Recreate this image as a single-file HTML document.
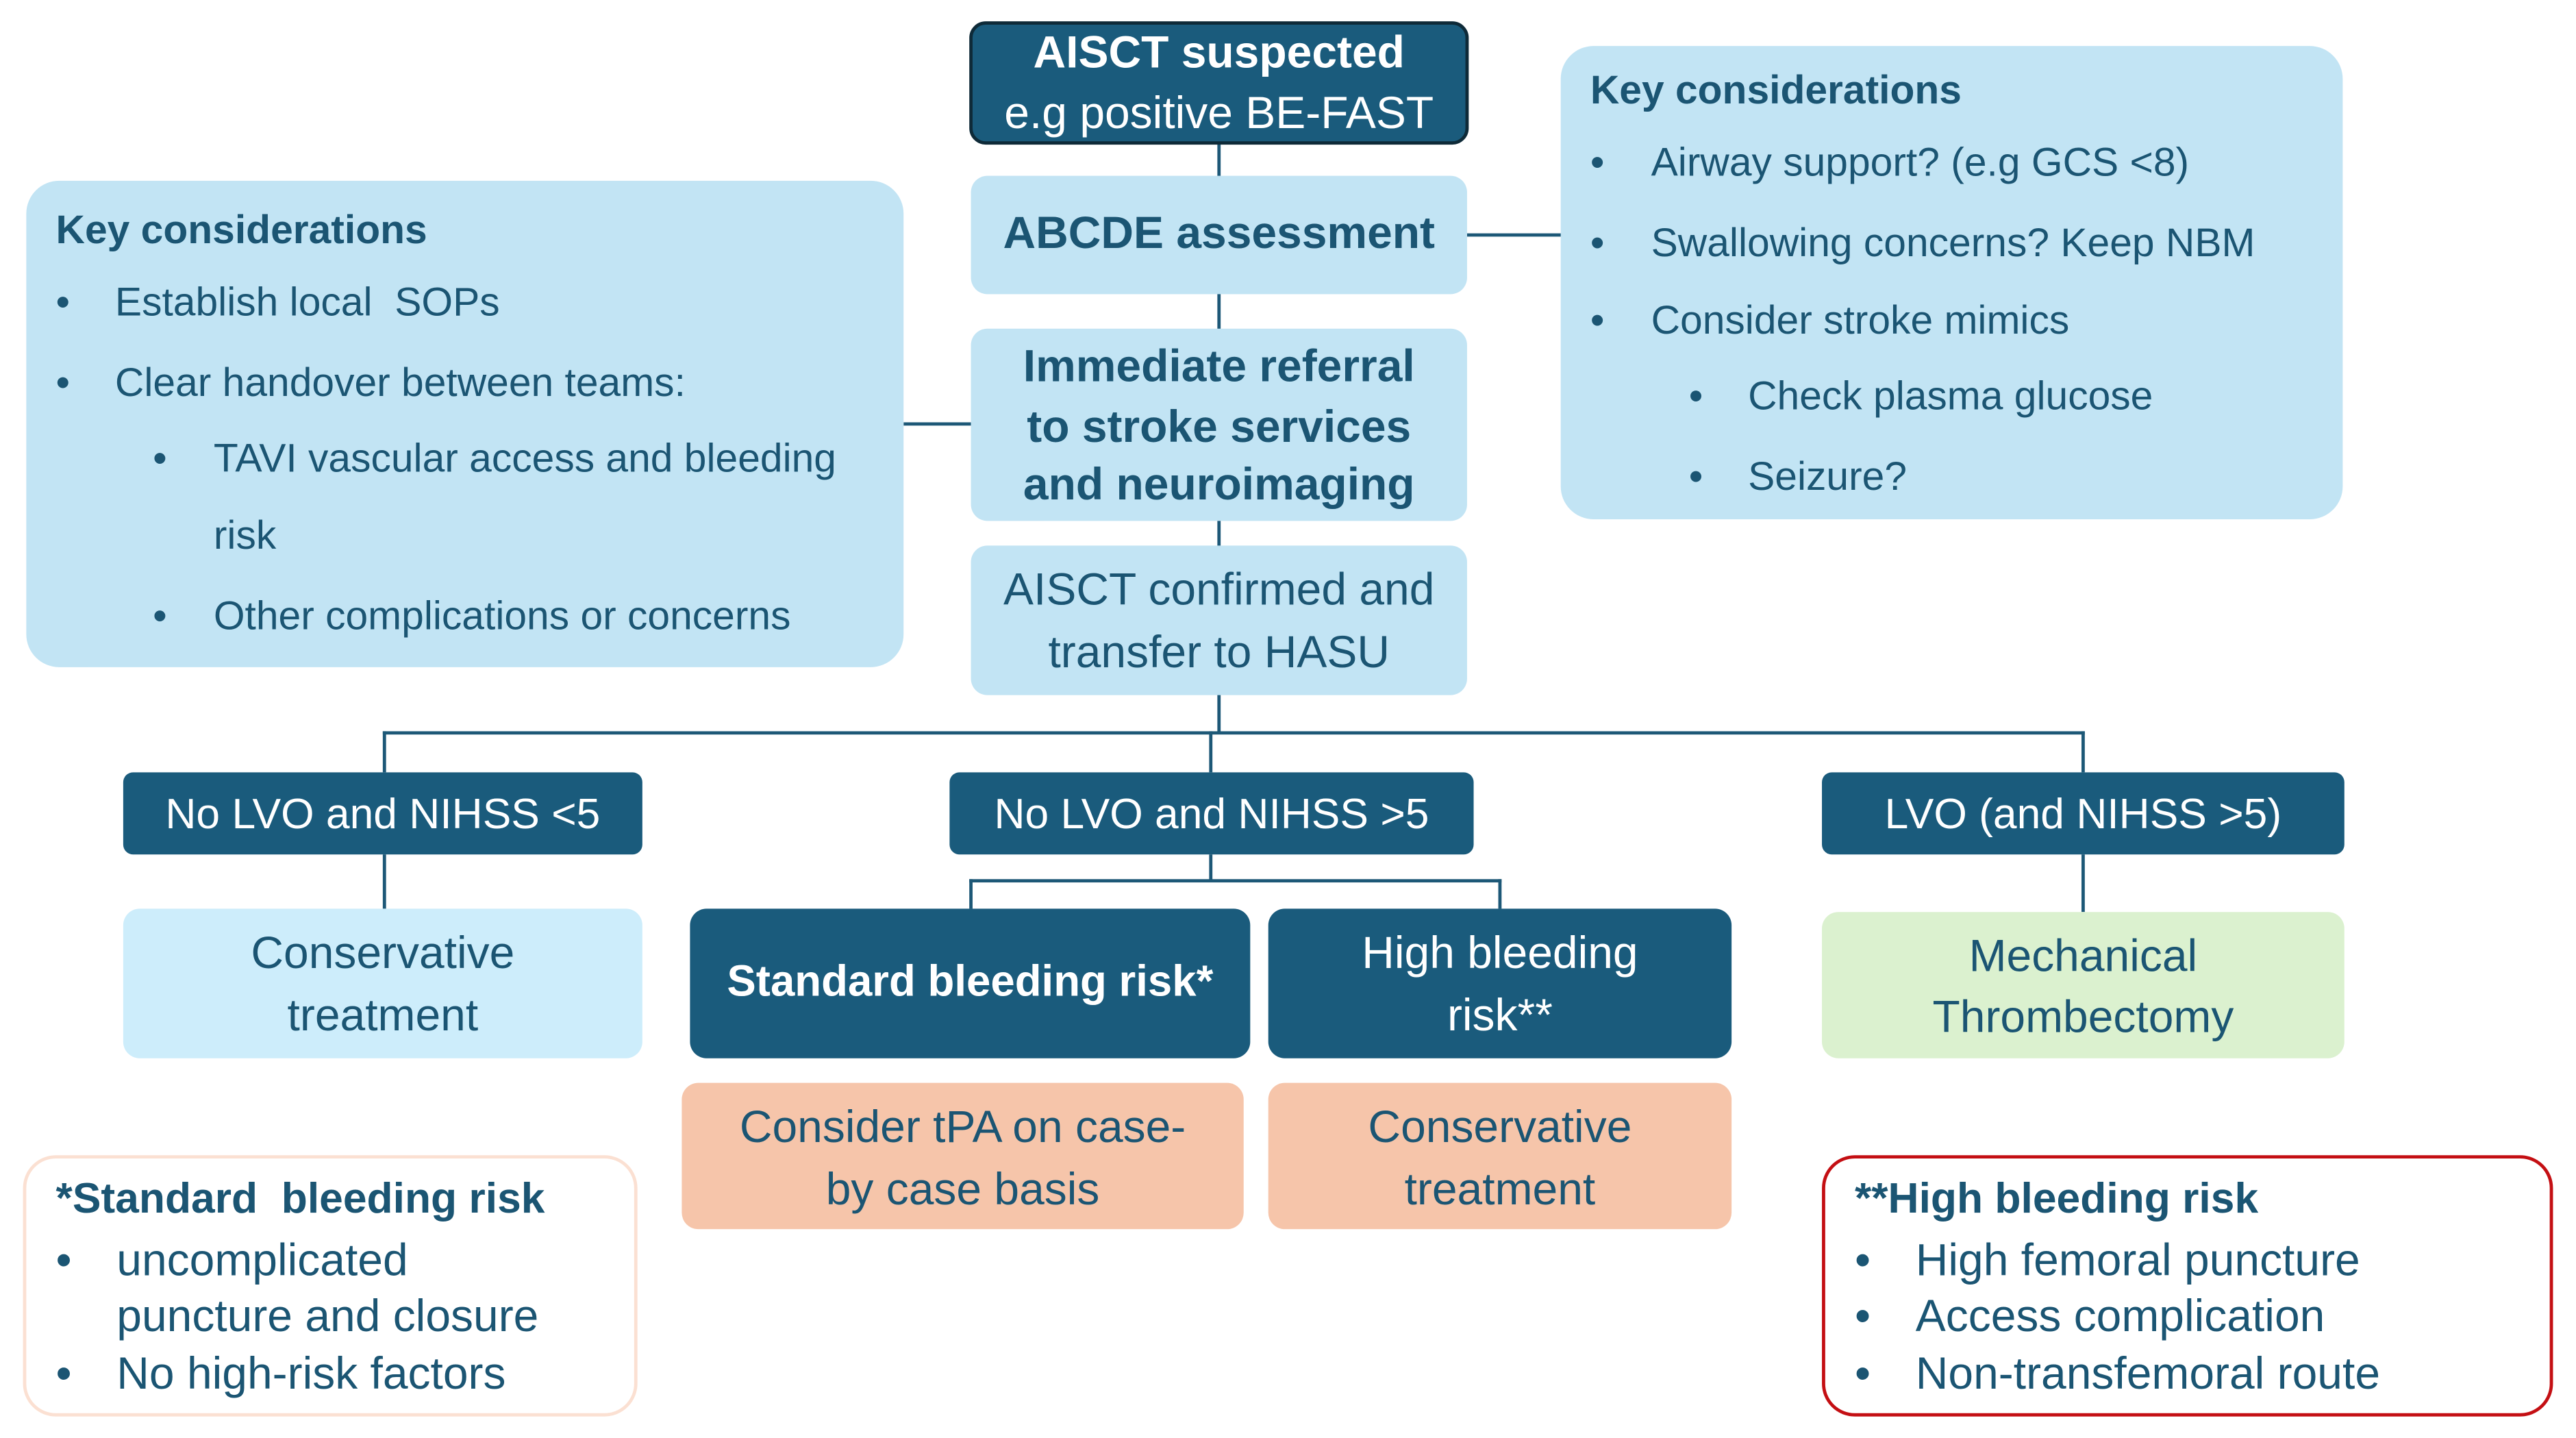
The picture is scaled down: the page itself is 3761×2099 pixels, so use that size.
<!DOCTYPE html>
<html><head><meta charset="utf-8"><style>
html,body{margin:0;padding:0;background:#fff;width:3761px;height:2099px;overflow:hidden}
#w{position:absolute;left:0;top:0;width:1568px;height:875px;transform:scale(2.3986);transform-origin:0 0;font-family:"Liberation Sans",sans-serif;color:#1b5573}
.b{position:absolute;box-sizing:border-box;border-radius:10px}
.d{background:#1a5b7c;color:#fff}
.l{background:#c2e4f4}
.t{position:absolute;white-space:nowrap;font-size:24.5px;line-height:24px}
.c{text-align:center}
.bo{font-weight:bold}
.big{font-size:27.5px;line-height:26px}
.ln{position:absolute;background:#1d5877}
</style></head><body><div id="w">
<div class="ln" style="left:741px;top:87px;width:2px;height:336px"></div>
<div class="ln" style="left:893px;top:142px;width:58px;height:2px"></div>
<div class="ln" style="left:550px;top:257px;width:41px;height:2px"></div>
<div class="ln" style="left:741px;top:422px;width:2px;height:24px"></div>
<div class="ln" style="left:233px;top:445px;width:1036px;height:2px"></div>
<div class="ln" style="left:233px;top:445px;width:2px;height:25px"></div>
<div class="ln" style="left:736px;top:445px;width:2px;height:25px"></div>
<div class="ln" style="left:1267px;top:445px;width:2px;height:25px"></div>
<div class="ln" style="left:233px;top:520px;width:2px;height:33px"></div>
<div class="ln" style="left:1267px;top:520px;width:2px;height:35px"></div>
<div class="ln" style="left:736px;top:520px;width:2px;height:16px"></div>
<div class="ln" style="left:590px;top:535px;width:324px;height:2px"></div>
<div class="ln" style="left:590px;top:535px;width:2px;height:18px"></div>
<div class="ln" style="left:912px;top:535px;width:2px;height:18px"></div>

<div class="b d" style="left:590px;top:13px;width:304px;height:75px;border:2px solid #0e2a38"></div>
<div class="t c bo big" style="left:590px;width:304px;top:19px;color:#fff">AISCT suspected</div>
<div class="t c big" style="left:590px;width:304px;top:56px;color:#fff">e.g positive BE-FAST</div>

<div class="b l" style="left:591px;top:107px;width:302px;height:72px"></div>
<div class="t c bo big" style="left:591px;width:302px;top:129px">ABCDE assessment</div>

<div class="b l" style="left:591px;top:200px;width:302px;height:117px"></div>
<div class="t c bo big" style="left:591px;width:302px;top:210px">Immediate referral</div>
<div class="t c bo big" style="left:591px;width:302px;top:247px">to stroke services</div>
<div class="t c bo big" style="left:591px;width:302px;top:282px">and neuroimaging</div>

<div class="b l" style="left:591px;top:332px;width:302px;height:91px"></div>
<div class="t c big" style="left:591px;width:302px;top:346px">AISCT confirmed and</div>
<div class="t c big" style="left:591px;width:302px;top:384px">transfer to HASU</div>

<div class="b l" style="left:16px;top:110px;width:534px;height:296px;border-radius:20px"></div>
<div class="t bo" style="left:34px;top:129px">Key considerations</div>
<div class="t" style="left:34px;top:173px">•</div><div class="t" style="left:70px;top:173px">Establish local&nbsp; SOPs</div>
<div class="t" style="left:34px;top:222px">•</div><div class="t" style="left:70px;top:222px">Clear handover between teams:</div>
<div class="t" style="left:93px;top:268px">•</div><div class="t" style="left:130px;top:268px">TAVI vascular access and bleeding</div>
<div class="t" style="left:130px;top:315px">risk</div>
<div class="t" style="left:93px;top:364px">•</div><div class="t" style="left:130px;top:364px">Other complications or concerns</div>

<div class="b l" style="left:950px;top:28px;width:476px;height:288px;border-radius:20px"></div>
<div class="t bo" style="left:968px;top:44px">Key considerations</div>
<div class="t" style="left:968px;top:88px">•</div><div class="t" style="left:1005px;top:88px">Airway support? (e.g GCS &lt;8)</div>
<div class="t" style="left:968px;top:137px">•</div><div class="t" style="left:1005px;top:137px">Swallowing concerns? Keep NBM</div>
<div class="t" style="left:968px;top:184px">•</div><div class="t" style="left:1005px;top:184px">Consider stroke mimics</div>
<div class="t" style="left:1028px;top:230px">•</div><div class="t" style="left:1064px;top:230px">Check plasma glucose</div>
<div class="t" style="left:1028px;top:279px">•</div><div class="t" style="left:1064px;top:279px">Seizure?</div>

<div class="b d" style="left:75px;top:470px;width:316px;height:50px;border-radius:6px"></div>
<div class="t c big" style="left:75px;width:316px;top:482px;color:#fff;font-size:26px">No LVO and NIHSS &lt;5</div>
<div class="b d" style="left:578px;top:470px;width:319px;height:50px;border-radius:6px"></div>
<div class="t c big" style="left:578px;width:319px;top:482px;color:#fff;font-size:26px">No LVO and NIHSS &gt;5</div>
<div class="b d" style="left:1109px;top:470px;width:318px;height:50px;border-radius:6px"></div>
<div class="t c big" style="left:1109px;width:318px;top:482px;color:#fff;font-size:26px">LVO (and NIHSS &gt;5)</div>

<div class="b" style="left:75px;top:553px;width:316px;height:91px;background:#cdedfb"></div>
<div class="t c big" style="left:75px;width:316px;top:567px">Conservative</div>
<div class="t c big" style="left:75px;width:316px;top:605px">treatment</div>
<div class="b d" style="left:420px;top:553px;width:341px;height:91px"></div>
<div class="t c bo" style="left:420px;width:341px;top:585px;color:#fff;font-size:26.5px">Standard bleeding risk*</div>
<div class="b d" style="left:772px;top:553px;width:282px;height:91px"></div>
<div class="t c big" style="left:772px;width:282px;top:567px;color:#fff">High bleeding</div>
<div class="t c big" style="left:772px;width:282px;top:605px;color:#fff">risk**</div>
<div class="b" style="left:1109px;top:555px;width:318px;height:89px;background:#dbf1cf"></div>
<div class="t c big" style="left:1109px;width:318px;top:569px">Mechanical</div>
<div class="t c big" style="left:1109px;width:318px;top:606px">Thrombectomy</div>

<div class="b" style="left:415px;top:659px;width:342px;height:89px;background:#f6c5aa"></div>
<div class="t c big" style="left:415px;width:342px;top:673px">Consider tPA on case-</div>
<div class="t c big" style="left:415px;width:342px;top:711px">by case basis</div>
<div class="b" style="left:772px;top:659px;width:282px;height:89px;background:#f6c5aa"></div>
<div class="t c big" style="left:772px;width:282px;top:673px">Conservative</div>
<div class="t c big" style="left:772px;width:282px;top:711px">treatment</div>

<div class="b" style="left:14px;top:703px;width:374px;height:159px;border:2px solid #fbe0d2;border-radius:20px;background:#fff"></div>
<div class="t bo big" style="left:34px;top:716px;font-size:26px">*Standard&nbsp; bleeding risk</div>
<div class="t big" style="left:34px;top:754px">•</div><div class="t big" style="left:71px;top:754px">uncomplicated</div>
<div class="t big" style="left:71px;top:788px">puncture and closure</div>
<div class="t big" style="left:34px;top:823px">•</div><div class="t big" style="left:71px;top:823px">No high-risk factors</div>

<div class="b" style="left:1109px;top:703px;width:445px;height:159px;border:2px solid #c40f13;border-radius:20px;background:#fff"></div>
<div class="t bo big" style="left:1129px;top:716px;font-size:26px">**High bleeding risk</div>
<div class="t big" style="left:1129px;top:754px">•</div><div class="t big" style="left:1166px;top:754px">High femoral puncture</div>
<div class="t big" style="left:1129px;top:788px">•</div><div class="t big" style="left:1166px;top:788px">Access complication</div>
<div class="t big" style="left:1129px;top:823px">•</div><div class="t big" style="left:1166px;top:823px">Non-transfemoral route</div>
</div></body></html>
